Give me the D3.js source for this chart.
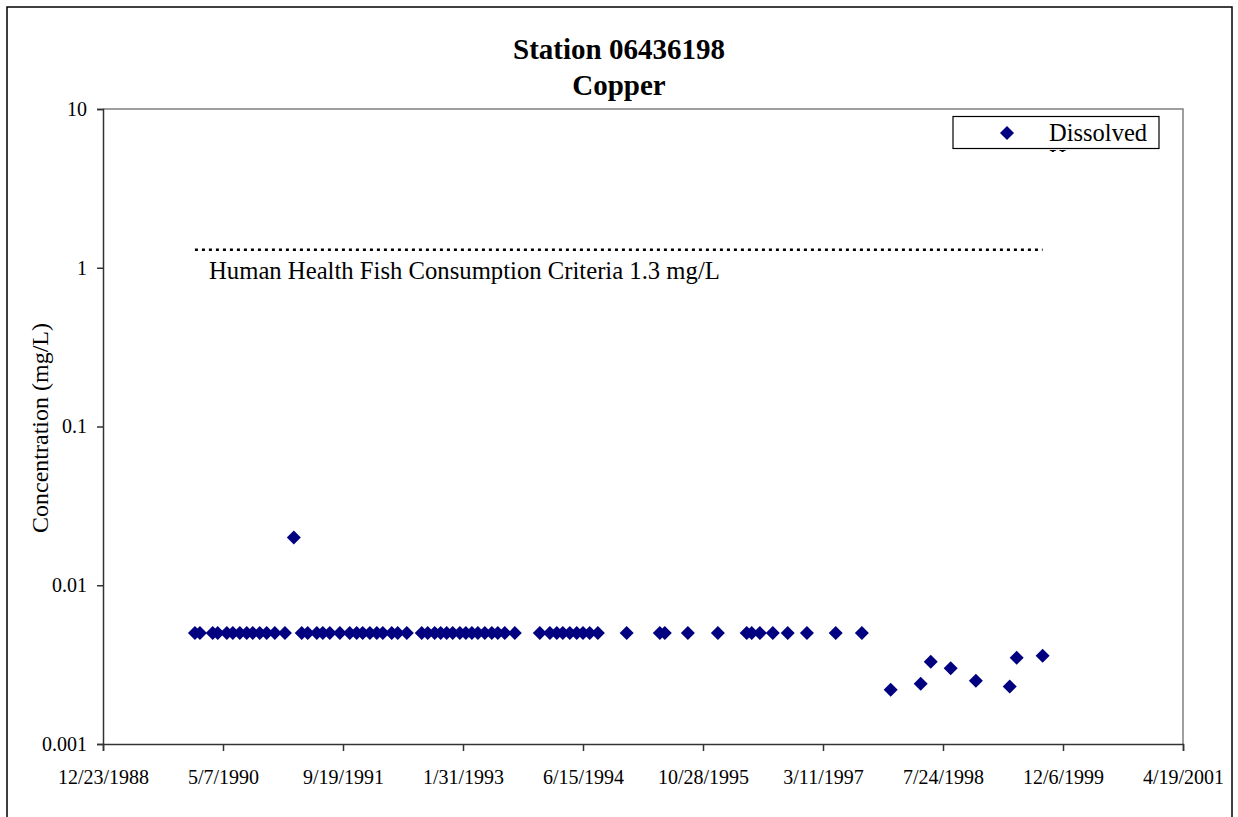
<!DOCTYPE html>
<html>
    <head>
        <script src="https://cdn.jsdelivr.net/npm/d3@7"></script>
        <style>
            body { margin: 0; background: #fff; }
            text { font-family: "Liberation Serif", "Times New Roman", serif; fill: #000; }
        </style>
    </head>
    <body>
        <svg id="chart" width="1238" height="817"></svg>
        <script>
            // Data
            var sampleDates = [
                "1990-01-10","1990-01-31","1990-03-25","1990-04-15","1990-05-23","1990-06-17","1990-07-16","1990-08-14","1990-09-08","1990-10-07","1990-11-05","1990-12-09","1991-01-20",
                "1991-02-26",
                "1991-03-31","1991-04-25","1991-06-02","1991-06-27","1991-07-26","1991-09-06","1991-10-17","1991-11-15","1991-12-10","1992-01-09","1992-02-07","1992-03-03","1992-04-09","1992-05-04","1992-06-11",
                "1992-08-12","1992-09-06","1992-10-05","1992-10-30","1992-11-24","1992-12-19","1993-01-18","1993-02-12","1993-03-09","1993-04-03","1993-05-02","1993-05-31","1993-06-25","1993-07-24","1993-09-04",
                "1993-12-17","1994-01-28","1994-02-26","1994-03-23","1994-04-21","1994-05-20","1994-06-15","1994-07-13","1994-08-16",
                "1994-12-14","1995-05-01","1995-05-22","1995-08-26","1995-12-29","1996-04-27","1996-05-18","1996-06-21","1996-08-14","1996-10-15","1997-01-03","1997-05-03","1997-08-20",
                "1997-12-18","1998-04-22","1998-06-03","1998-08-25","1998-12-08","1999-04-28","1999-05-27","1999-09-12"
            ];
            var dissolved = [
                0.005,0.005,0.005,0.005,0.005,0.005,0.005,0.005,0.005,0.005,0.005,0.005,0.005,
                0.02,
                0.005,0.005,0.005,0.005,0.005,0.005,0.005,0.005,0.005,0.005,0.005,0.005,0.005,0.005,0.005,
                0.005,0.005,0.005,0.005,0.005,0.005,0.005,0.005,0.005,0.005,0.005,0.005,0.005,0.005,0.005,
                0.005,0.005,0.005,0.005,0.005,0.005,0.005,0.005,0.005,
                0.005,0.005,0.005,0.005,0.005,0.005,0.005,0.005,0.005,0.005,0.005,0.005,0.005,
                0.0022,0.0024,0.0033,0.0030,0.0025,0.0023,0.0035,0.0036
            ];
            var criteriaValue = 1.3;
            var criteriaLabel = "Human Health Fish Consumption Criteria 1.3 mg/L";
            var xTickLabels = ["12/23/1988","5/7/1990","9/19/1991","1/31/1993","6/15/1994","10/28/1995","3/11/1997","7/24/1998","12/6/1999","4/19/2001"];
            var yTickValues = [10, 1, 0.1, 0.01, 0.001];
            var titleLines = ["Station 06436198", "Copper"];

            // Initialize Variables
            var margin = {left: 103, right: 55, top: 109, bottom: 73};
            var W = 1238, H = 817;
            var parseIso = d3.utcParse("%Y-%m-%d");
            var parseTick = d3.utcParse("%m/%d/%Y");
            var fmtTick = d3.utcFormat("%-m/%-d/%Y");

            var points = sampleDates.map(function(d, i) { return {date: parseIso(d), value: dissolved[i]}; });
            var tickDates = xTickLabels.map(parseTick);

            var svg = d3.select("svg#chart");

            // outer chart border
            svg.append("rect").attr("x", 7).attr("y", 7).attr("width", 1225).attr("height", 830)
                .attr("fill", "#fff").attr("stroke", "#000").attr("stroke-width", 1.5);

            var x = d3.scaleUtc().domain([tickDates[0], tickDates[tickDates.length - 1]]).range([margin.left, W - margin.right]);
            var y = d3.scaleLog().domain([0.001, 10]).range([H - margin.bottom, margin.top]);

            // plot area frame (top/right grey)
            svg.append("path")
                .attr("d", "M" + x.range()[0] + "," + y.range()[1] + "H" + x.range()[1] + "V" + y.range()[0])
                .attr("fill", "none").attr("stroke", "#808080").attr("stroke-width", 1.5);

            // Title
            svg.append("g").selectAll("text").data(titleLines).enter().append("text")
                .attr("x", W / 2).attr("y", function(d, i) { return 59 + i * 36; })
                .attr("text-anchor", "middle").style("font-size", "29px").style("font-weight", "bold")
                .text(function(d) { return d; });

            // Draw Axis and Labels
            var xAxis = d3.axisBottom(x).tickValues(tickDates).tickFormat(fmtTick).tickSizeOuter(0).tickSize(7).tickPadding(22);
            var yAxis = d3.axisLeft(y).tickValues(yTickValues).tickFormat(d3.format("~g")).tickSizeOuter(0).tickSize(6).tickPadding(10);

            var gx = svg.append("g").attr("transform", "translate(0," + y.range()[0] + ")").call(xAxis);
            var gy = svg.append("g").attr("transform", "translate(" + x.range()[0] + ",0)").call(yAxis);
            [gx, gy].forEach(function(g) {
                g.selectAll("path, line").attr("stroke", "#333").attr("stroke-width", 1.5);
                g.selectAll("text").style("font-size", "20px").attr("font-family", null);
            });
            gx.selectAll("text").attr("dy", "0.55em");

            svg.append("text").attr("transform", "translate(48,428) rotate(-90)")
                .attr("text-anchor", "middle").style("font-size", "24px").text("Concentration (mg/L)");

            // criteria line across sample period
            var span = d3.extent(points, function(d) { return d.date; });
            svg.append("line")
                .attr("x1", x(span[0])).attr("x2", x(span[1]))
                .attr("y1", y(criteriaValue)).attr("y2", y(criteriaValue))
                .attr("stroke", "#000").attr("stroke-width", 2.5).attr("stroke-dasharray", "3,4");
            svg.append("text").attr("x", 209).attr("y", 279).style("font-size", "24.7px").text(criteriaLabel);

            // Individual data points
            var diamond = "M0,-7L7,0L0,7L-7,0Z";
            svg.append("g").selectAll("path").data(points).enter().append("path")
                .attr("d", diamond)
                .attr("transform", function(d) { return "translate(" + x(d.date) + "," + y(d.value) + ")"; })
                .attr("fill", "#000080");

            // Legend
            var legend = svg.append("g");
            legend.append("rect").attr("x", 953).attr("y", 116.5).attr("width", 206).attr("height", 32)
                .attr("fill", "#fff").attr("stroke", "#000").attr("stroke-width", 1.2);
            legend.append("path").attr("d", diamond).attr("transform", "translate(1007,133)").attr("fill", "#000080");
            legend.append("text").attr("x", 1049).attr("y", 141).style("font-size", "24.5px").text("Dissolved");
            // second entry spills out under the box
            svg.append("clipPath").attr("id", "legclip").append("rect").attr("x", 1045).attr("y", 149).attr("width", 26).attr("height", 3);
            legend.append("text").attr("x", 1049).attr("y", 165).attr("clip-path", "url(#legclip)")
                .style("font-size", "24px").text("Human Health");
        </script>
    </body>
</html>
